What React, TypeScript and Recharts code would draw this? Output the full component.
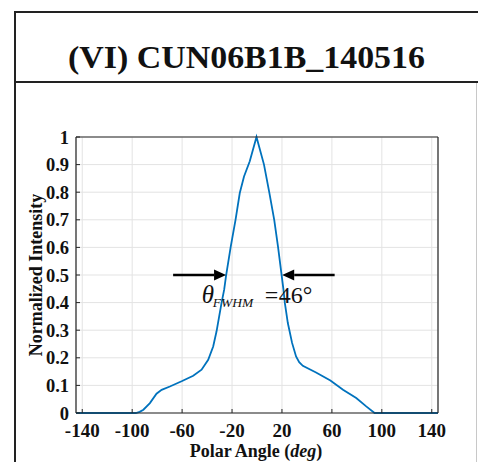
import React from "react";
import {
  LineChart,
  Line,
  XAxis,
  YAxis,
  CartesianGrid,
  ReferenceLine,
  ReferenceDot,
} from "recharts";

const polarAngle = [
  -145, -97, -94, -91, -85.8, -80.5, -76.4, -69.8, -60.4, -51.1, -44.4, -39.1,
  -35.1, -32.4, -30.3, -28.4, -26.3, -24.8, -21, -17.2, -13.8, -10.4, -5.8,
  -0.4, 5.6, 9.8, 13.8, 16.8, 19.8, 21.2, 22.3, 24.7, 28.1, 31.3, 33.8, 36.7,
  47.3, 58.8, 68.9, 79.5, 87.5, 94.2, 145,
];
const intensity = [
  0, 0, 0.004, 0.012, 0.036, 0.07, 0.084, 0.096, 0.115, 0.135, 0.157, 0.193,
  0.241, 0.296, 0.35, 0.399, 0.447, 0.497, 0.604, 0.7, 0.797, 0.857, 0.912, 1,
  0.9, 0.8, 0.7, 0.604, 0.497, 0.447, 0.399, 0.326, 0.254, 0.205, 0.184, 0.171,
  0.147, 0.118, 0.084, 0.054, 0.024, 0, 0,
];
const xTicks = [-140, -100, -60, -20, 20, 60, 100, 140];
const yTicks = [0, 0.1, 0.2, 0.3, 0.4, 0.5, 0.6, 0.7, 0.8, 0.9, 1];
const leftArrow = [-67.2, -24.8];
const rightArrow = [62.2, 20.2];
const arrowLevel = 0.5;
const fwhmLabelPos = { x: -43.4, y: 0.4 };
const fwhmValue = "46";
const title = "(VI) CUN06B1B_140516";

const data = polarAngle.map((a, i) => ({ angle: a, value: intensity[i] }));

const SERIF = '"Liberation Serif", "Times New Roman", serif';
const AXIS = "#262626";

const XTick = (props: any) => {
  const { x, y, payload } = props;
  return (
    <g>
      <line x1={x} y1={y} x2={x} y2={y - 4} stroke={AXIS} strokeWidth={1} />
      <text
        x={x}
        y={y + 23.5}
        textAnchor="middle"
        fontFamily={SERIF}
        fontWeight="bold"
        fontSize={19}
        fill="#111"
      >
        {payload.value}
      </text>
    </g>
  );
};

const YTick = (props: any) => {
  const { x, y, payload } = props;
  return (
    <g>
      <line x1={x} y1={y} x2={x + 4} y2={y} stroke={AXIS} strokeWidth={1} />
      <text
        x={x - 7}
        y={y + 6.5}
        textAnchor="end"
        fontFamily={SERIF}
        fontWeight="bold"
        fontSize={18.5}
        fill="#111"
      >
        {payload.value}
      </text>
    </g>
  );
};

const Arrow = (props: any) => {
  const { x1, y1, x2, y2 } = props;
  const dir = x2 > x1 ? 1 : -1;
  const headLen = 12;
  const half = 5.5;
  const bx = x2 - dir * headLen;
  return (
    <g>
      <line x1={x1} y1={y1} x2={bx} y2={y2} stroke="#000" strokeWidth={2.6} />
      <polygon
        points={`${x2},${y2} ${bx},${y2 - half} ${bx},${y2 + half}`}
        fill="#000"
      />
    </g>
  );
};

const FwhmLabel = (props: any) => {
  const { cx, cy } = props;
  return (
    <g>
      <text
        x={cx - 1}
        y={cy}
        fontFamily={SERIF}
        fontStyle="italic"
        fontSize={25}
        fill="#111"
      >
        θ
      </text>
      <text
        x={cx + 10}
        y={cy + 4}
        fontFamily={SERIF}
        fontStyle="italic"
        fontSize={13.5}
        fill="#111"
      >
        FWHM
      </text>
      <text x={cx + 62} y={cy} fontFamily={SERIF} fontSize={24} fill="#111">
        =
      </text>
      <text x={cx + 76} y={cy} fontFamily={SERIF} fontSize={24} fill="#111">
        {fwhmValue}°
      </text>
    </g>
  );
};

export default function App() {
  return (
    <div
      style={{
        position: "absolute",
        left: 0,
        top: 0,
        width: 478,
        height: 462,
        background: "#fff",
        overflow: "hidden",
      }}
    >
      <svg
        width={478}
        height={462}
        style={{ position: "absolute", left: 0, top: 0 }}
      >
        <line x1={15} y1={12} x2={478} y2={12} stroke="#222" strokeWidth={2} />
        <line x1={15} y1={82} x2={478} y2={82} stroke="#222" strokeWidth={2} />
        <line x1={15} y1={11} x2={15} y2={462} stroke="#222" strokeWidth={2} />
        <line x1={476.5} y1={83} x2={476.5} y2={462} stroke="#c8c8c8" strokeWidth={1} />
        <text
          x={68}
          y={68}
          textLength={357}
          lengthAdjust="spacingAndGlyphs"
          fontFamily={SERIF}
          fontWeight="bold"
          fontSize={31}
          fill="#111"
        >
          {title}
        </text>
        <text
          x={42}
          y={275}
          transform="rotate(-90 42 275)"
          textAnchor="middle"
          fontFamily={SERIF}
          fontWeight="bold"
          fontSize={18}
          fill="#111"
        >
          Normalized Intensity
        </text>
        <text
          x={256}
          y={457}
          textAnchor="middle"
          fontFamily={SERIF}
          fontWeight="bold"
          fontSize={18}
          fill="#111"
        >
          Polar Angle (<tspan fontStyle="italic">deg</tspan>)
        </text>
      </svg>
      <div style={{ position: "absolute", left: 0, top: 0 }}>
        <LineChart
          width={478}
          height={462}
          data={data}
          margin={{ top: 137, right: 40, bottom: 19, left: 16 }}
        >
          <CartesianGrid stroke="#e3e3e3" strokeWidth={1} />
          <XAxis
            dataKey="angle"
            type="number"
            domain={[-145, 145]}
            ticks={xTicks}
            allowDataOverflow
            height={30}
            tickSize={0}
            tickMargin={0}
            tickLine={false}
            axisLine={{ stroke: AXIS, strokeWidth: 1.2 }}
            tick={(p: any) => <XTick {...p} />}
            interval={0}
          />
          <XAxis
            xAxisId="top"
            orientation="top"
            type="number"
            domain={[-145, 145]}
            ticks={xTicks}
            allowDataOverflow
            mirror
            tick={false}
            tickSize={4}
            tickLine={{ stroke: AXIS }}
            axisLine={{ stroke: AXIS, strokeWidth: 1.2 }}
          />
          <YAxis
            type="number"
            domain={[0, 1]}
            ticks={yTicks}
            width={60}
            tickSize={0}
            tickMargin={0}
            tickLine={false}
            axisLine={{ stroke: AXIS, strokeWidth: 1.2 }}
            tick={(p: any) => <YTick {...p} />}
            interval={0}
          />
          <YAxis
            yAxisId="right"
            orientation="right"
            type="number"
            domain={[0, 1]}
            ticks={yTicks}
            mirror
            tick={false}
            tickSize={4}
            tickLine={{ stroke: AXIS }}
            axisLine={{ stroke: AXIS, strokeWidth: 1.2 }}
          />
          <Line
            type="linear"
            dataKey="value"
            stroke="#0072BD"
            strokeWidth={1.8}
            dot={false}
            isAnimationActive={false}
          />
          <ReferenceLine
            segment={[
              { x: leftArrow[0], y: arrowLevel },
              { x: leftArrow[1], y: arrowLevel },
            ]}
            shape={(p: any) => <Arrow {...p} />}
          />
          <ReferenceLine
            segment={[
              { x: rightArrow[0], y: arrowLevel },
              { x: rightArrow[1], y: arrowLevel },
            ]}
            shape={(p: any) => <Arrow {...p} />}
          />
          <ReferenceDot
            x={fwhmLabelPos.x}
            y={fwhmLabelPos.y}
            r={0}
            shape={(p: any) => <FwhmLabel {...p} />}
          />
        </LineChart>
      </div>
    </div>
  );
}
